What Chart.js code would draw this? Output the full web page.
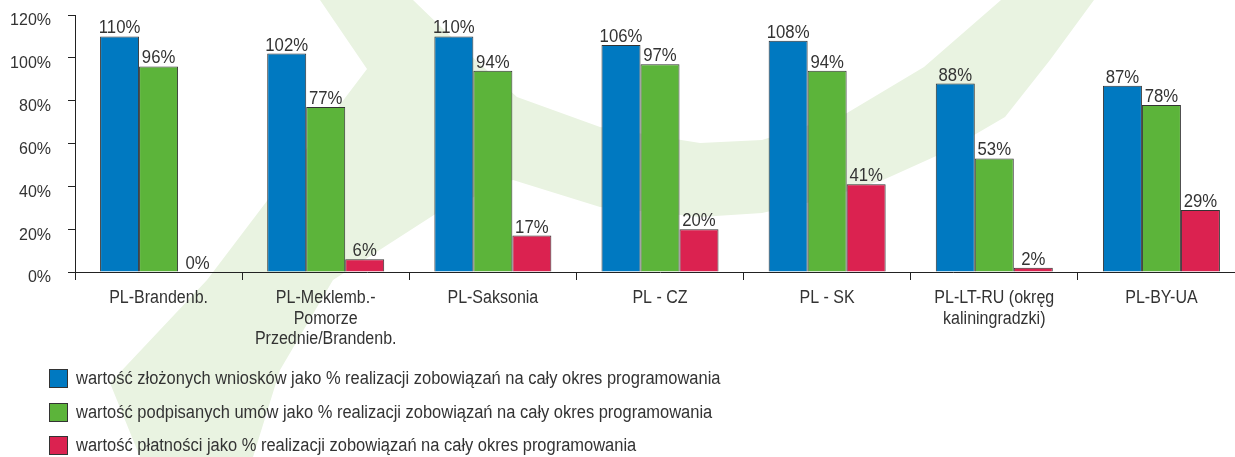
<!DOCTYPE html>
<html><head><meta charset="utf-8">
<script src="https://cdn.jsdelivr.net/npm/chart.js@4/dist/chart.umd.min.js"></script>
<style>
html,body{margin:0;padding:0;background:#fff;overflow:hidden;width:1235px;height:457px;}
#wrap{position:relative;width:1235px;height:457px;overflow:hidden;}
#c{position:absolute;left:0;top:0;}
#legend{position:absolute;left:49px;top:369px;font-family:'Liberation Sans',Arial,sans-serif;font-size:18px;color:#333;}
.row{display:flex;align-items:center;height:19px;margin-bottom:14.5px;white-space:nowrap;}
.box{width:19px;height:19px;border:1px solid #333;box-sizing:border-box;margin-right:8px;flex:none;}
.txt{display:inline-block;transform:scaleX(0.915);transform-origin:0 50%;}
</style>
</head><body>
<div id="wrap"><canvas id="c" width="1250" height="457"></canvas><div id="legend"></div></div>
<script>
const categories = [
  'PL-Brandenb.',
  ['PL-Meklemb.-','Pomorze','Przednie/Brandenb.'],
  'PL-Saksonia',
  'PL - CZ',
  'PL - SK',
  ['PL-LT-RU (okręg','kaliningradzki)'],
  'PL-BY-UA'
];
const seriesNames = [
  'wartość złożonych wniosków jako % realizacji zobowiązań na cały okres programowania',
  'wartość podpisanych umów jako % realizacji zobowiązań na cały okres programowania',
  'wartość płatności jako % realizacji zobowiązań na cały okres programowania'
];
const applications = [110, 102, 110, 106, 108, 88, 87];
const contracts   = [96, 77, 94, 97, 94, 53, 78];
const payments    = [0, 6, 17, 20, 41, 2, 29];
const yTicks = [0, 20, 40, 60, 80, 100, 120];

const colors = ['#0079C1', '#5CB43A', '#DB2250'];
const FONT = "'Liberation Sans',Arial,sans-serif";

const watermark = {
  id: 'watermark',
  beforeDraw(chart) {
    const ctx = chart.ctx;
    ctx.save();
    ctx.fillStyle = 'rgb(233,243,225)';
    const pts = [[320,0],[413,0],[470,55],[517,97],[600,127],[700,143],[762,140],[847,113],[924,67],[1001,0],
      [1094,0],[1050,60],[1005,117],[945,152],[883,180],[820,200],[762,213],[700,217],[600,207],[513,180],
      [437,213],[333,280],[280,370],[253,457],[140,457],[110,383],[207,280],[367,69]];
    ctx.beginPath();
    pts.forEach((p,i)=> i? ctx.lineTo(p[0],p[1]) : ctx.moveTo(p[0],p[1]));
    ctx.closePath();
    ctx.fill();
    ctx.restore();
  }
};

function squeezedText(ctx, text, x, y, sq) {
  ctx.save();
  ctx.translate(x, y);
  ctx.scale(sq, 1);
  ctx.fillText(text, 0, 0);
  ctx.restore();
}

const valueLabels = {
  id: 'valueLabels',
  afterDatasetsDraw(chart) {
    const ctx = chart.ctx;
    ctx.save();
    ctx.font = "18px " + FONT;
    ctx.fillStyle = '#333';
    ctx.textAlign = 'center';
    ctx.textBaseline = 'alphabetic';
    chart.data.datasets.forEach((ds, i) => {
      chart.getDatasetMeta(i).data.forEach((bar, j) => {
        squeezedText(ctx, ds.data[j] + '%', bar.x, bar.y - 3, 0.93);
      });
    });
    ctx.restore();
  }
};

const categoryLabels = {
  id: 'categoryLabels',
  afterDraw(chart) {
    const ctx = chart.ctx, xs = chart.scales.x;
    ctx.save();
    ctx.font = "18px " + FONT;
    ctx.fillStyle = '#333';
    ctx.textAlign = 'center';
    ctx.textBaseline = 'alphabetic';
    chart.data.labels.forEach((lab, i) => {
      const lines = Array.isArray(lab) ? lab : [lab];
      const x = xs.getPixelForValue(i);
      lines.forEach((ln, k) => squeezedText(ctx, ln, x, xs.top + 31 + k * 20.5, 0.89));
    });
    ctx.restore();
  }
};

new Chart(document.getElementById('c'), {
  type: 'bar',
  data: {
    labels: categories,
    datasets: [applications, contracts, payments].map((d, i) => ({
      label: seriesNames[i], data: d, backgroundColor: colors[i],
      borderColor: '#333', borderWidth: 1,
      barPercentage: 1, categoryPercentage: 0.7
    }))
  },
  options: {
    responsive: false, animation: false, devicePixelRatio: 1,
    layout: { padding: { top: 15, left: 0, right: 5, bottom: 0 } },
    plugins: { legend: { display: false }, tooltip: { enabled: false } },
    scales: {
      x: {
        grid: { offset: true, drawOnChartArea: false, drawTicks: true, tickLength: 8, color: '#222' },
        border: { display: true, color: '#222', width: 1 },
        ticks: { display: false, autoSkip: false },
        afterFit(s) { s.height = 185; s.paddingLeft = 0; s.paddingRight = 0; }
      },
      y: {
        min: 0, max: 120,
        afterBuildTicks(s) { s.ticks = yTicks.map(v => ({ value: v })); },
        ticks: { color: '#333', font: { family: FONT, size: 16 }, padding: 17, labelOffset: 6,
                 callback: v => v + '%' },
        grid: { drawOnChartArea: false, tickLength: 7, color: '#222' },
        border: { display: true, color: '#222', width: 1 },
        afterFit(s) { s.width = 75; s.paddingTop = 0; s.paddingBottom = 0; }
      }
    }
  },
  plugins: [watermark, valueLabels, categoryLabels]
});

const lg = document.getElementById('legend');
seriesNames.forEach((n, i) => {
  const r = document.createElement('div'); r.className = 'row';
  const b = document.createElement('span'); b.className = 'box'; b.style.background = colors[i];
  const t = document.createElement('span'); t.className = 'txt'; t.textContent = n;
  r.appendChild(b); r.appendChild(t); lg.appendChild(r);
});
</script>
</body></html>
